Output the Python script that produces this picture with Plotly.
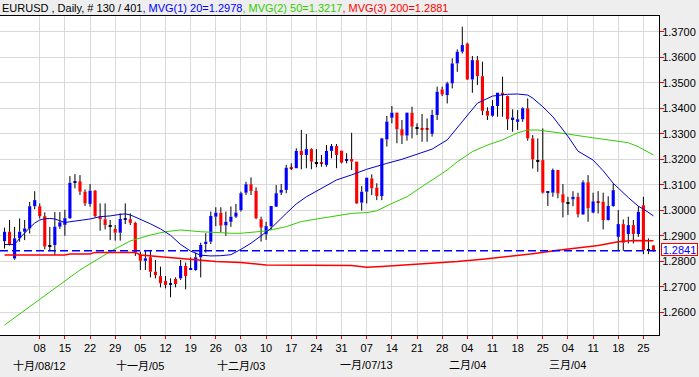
import plotly.graph_objects as go

# ---------------- data ----------------
symbol = "EURUSD"
period = "Daily"
first_bar = 130
total_bars = 401
last_price = 1.2841

ma_periods = [20, 50, 200]
ma_last = [1.2978, 1.3217, 1.2881]

day_labels = ["08", "15", "22", "29", "05", "12", "19", "26", "03", "10", "17", "24", "31",
              "07", "14", "21", "28", "04", "11", "18", "25", "04", "11", "18", "25"]
tick_idx = [7, 12, 17, 22, 27, 32, 37, 42, 47, 52, 57, 62, 67,
            72, 77, 82, 87, 92, 97, 102, 107, 112, 117, 122, 127]

month_labels = ["十月/08/12", "十一月/05", "十二月/03", "一月/07/13", "二月/04", "三月/04"]
month_idx = [7, 27, 47, 72, 92, 112]

opens = [
    1.2879, 1.2916, 1.2811, 1.2890, 1.2916, 1.2929, 1.3016, 1.3016, 1.2977, 1.2860,
    1.2864, 1.2936, 1.2943, 1.2969, 1.3110, 1.3114, 1.3073, 1.3025, 1.3077, 1.2977,
    1.2965, 1.2938, 1.2927, 1.2912, 1.2965, 1.2965, 1.2951, 1.2827, 1.2802, 1.2816,
    1.2759, 1.2742, 1.2723, 1.2710, 1.2731, 1.2733, 1.2782, 1.2766, 1.2766, 1.2816,
    1.2868, 1.2877, 1.2975, 1.2990, 1.2941, 1.2955, 1.2975, 1.3001, 1.3069, 1.3102,
    1.3076, 1.2965, 1.2906, 1.2938, 1.3014, 1.3069, 1.3080, 1.3169, 1.3165, 1.3233,
    1.3217, 1.3240, 1.3187, 1.3189, 1.3178, 1.3233, 1.3252, 1.3234, 1.3198, 1.3201,
    1.3191, 1.3030, 1.3073, 1.3125, 1.3089, 1.3056, 1.3278, 1.3363, 1.3383, 1.3318,
    1.3293, 1.3383, 1.3322, 1.3322, 1.3319, 1.3300, 1.3374, 1.3474, 1.3452, 1.3498,
    1.3576, 1.3622, 1.3654, 1.3513, 1.3589, 1.3526, 1.3390, 1.3371, 1.3409, 1.3461,
    1.3448, 1.3357, 1.3347, 1.3357, 1.3400, 1.3282, 1.3194, 1.3197, 1.3069, 1.3069,
    1.3158, 1.3063, 1.3030, 1.3043, 1.3053, 1.2984, 1.3110, 1.2991, 1.3035, 1.3034,
    1.2962, 1.3017, 1.2896, 1.2946, 1.2907, 1.2942, 1.2907, 1.3020, 1.2844, 1.2862,
]
highs = [
    1.2932, 1.2962, 1.2935, 1.2968, 1.2962, 1.3033, 1.3075, 1.3027, 1.2992, 1.2935,
    1.2993, 1.2993, 1.3002, 1.3134, 1.3142, 1.3138, 1.3082, 1.3103, 1.3080, 1.3027,
    1.3027, 1.2962, 1.2942, 1.2988, 1.3027, 1.2988, 1.2955, 1.2838, 1.2844, 1.2844,
    1.2805, 1.2779, 1.2742, 1.2733, 1.2737, 1.2805, 1.2795, 1.2816, 1.2834, 1.2873,
    1.2910, 1.2995, 1.3012, 1.3012, 1.2995, 1.3015, 1.3025, 1.3073, 1.3112, 1.3129,
    1.3090, 1.2975, 1.2955, 1.3017, 1.3099, 1.3103, 1.3178, 1.3184, 1.3243, 1.3315,
    1.3299, 1.3243, 1.3240, 1.3217, 1.3256, 1.3260, 1.3260, 1.3234, 1.3224, 1.3304,
    1.3191, 1.3095, 1.3128, 1.3141, 1.3106, 1.3284, 1.3370, 1.3409, 1.3383, 1.3354,
    1.3383, 1.3406, 1.3341, 1.3378, 1.3360, 1.3394, 1.3485, 1.3485, 1.3504, 1.3596,
    1.3631, 1.3720, 1.3657, 1.3605, 1.3605, 1.3583, 1.3404, 1.3432, 1.3461, 1.3524,
    1.3450, 1.3396, 1.3393, 1.3404, 1.3439, 1.3295, 1.3282, 1.3321, 1.3072, 1.3164,
    1.3158, 1.3103, 1.3053, 1.3075, 1.3069, 1.3118, 1.3138, 1.3069, 1.3075, 1.3069,
    1.3055, 1.3105, 1.3001, 1.2964, 1.2975, 1.2962, 1.3016, 1.3053, 1.2890, 1.2864,
]
lows = [
    1.2850, 1.2862, 1.2806, 1.2877, 1.2883, 1.2909, 1.3004, 1.2968, 1.2847, 1.2840,
    1.2825, 1.2927, 1.2900, 1.2966, 1.3086, 1.3060, 1.3017, 1.3014, 1.2972, 1.2920,
    1.2925, 1.2883, 1.2881, 1.2881, 1.2946, 1.2942, 1.2821, 1.2766, 1.2766, 1.2737,
    1.2733, 1.2698, 1.2694, 1.2659, 1.2698, 1.2727, 1.2690, 1.2766, 1.2763, 1.2737,
    1.2834, 1.2868, 1.2938, 1.2915, 1.2900, 1.2935, 1.2970, 1.2995, 1.3060, 1.3060,
    1.2965, 1.2877, 1.2884, 1.2923, 1.3014, 1.3060, 1.3067, 1.3158, 1.3165, 1.3161,
    1.3165, 1.3161, 1.3169, 1.3171, 1.3171, 1.3204, 1.3165, 1.3184, 1.3184, 1.3158,
    1.3025, 1.2999, 1.3027, 1.3060, 1.3040, 1.3040, 1.3250, 1.3341, 1.3263, 1.3260,
    1.3273, 1.3282, 1.3295, 1.3269, 1.3269, 1.3289, 1.3354, 1.3448, 1.3419, 1.3478,
    1.3543, 1.3615, 1.3511, 1.3461, 1.3491, 1.3373, 1.3354, 1.3367, 1.3367, 1.3367,
    1.3315, 1.3308, 1.3315, 1.3347, 1.3273, 1.3164, 1.3151, 1.3066, 1.3017, 1.3053,
    1.3047, 1.2972, 1.2982, 1.3016, 1.2972, 1.2982, 1.2955, 1.2988, 1.2988, 1.2925,
    1.2960, 1.3014, 1.2841, 1.2841, 1.2870, 1.2870, 1.2896, 1.2828, 1.2828, 1.2838,
]
closes = [
    1.2916, 1.2866, 1.2890, 1.2916, 1.2929, 1.3016, 1.3040, 1.2977, 1.2858, 1.2860,
    1.2936, 1.2953, 1.2969, 1.3108, 1.3112, 1.3073, 1.3027, 1.3077, 1.2977, 1.2965,
    1.2942, 1.2938, 1.2912, 1.2966, 1.2967, 1.2951, 1.2834, 1.2802, 1.2812, 1.2759,
    1.2746, 1.2714, 1.2707, 1.2711, 1.2711, 1.2782, 1.2742, 1.2772, 1.2816, 1.2864,
    1.2877, 1.2978, 1.2991, 1.2940, 1.2955, 1.2975, 1.2991, 1.3067, 1.3102, 1.3076,
    1.2969, 1.2932, 1.2938, 1.3017, 1.3067, 1.3080, 1.3167, 1.3166, 1.3233, 1.3217,
    1.3240, 1.3191, 1.3187, 1.3186, 1.3233, 1.3252, 1.3217, 1.3187, 1.3200, 1.3191,
    1.3027, 1.3073, 1.3128, 1.3086, 1.3056, 1.3282, 1.3348, 1.3383, 1.3318, 1.3293,
    1.3383, 1.3328, 1.3322, 1.3316, 1.3316, 1.3374, 1.3465, 1.3454, 1.3498, 1.3576,
    1.3622, 1.3648, 1.3513, 1.3589, 1.3526, 1.3390, 1.3371, 1.3409, 1.3461, 1.3456,
    1.3357, 1.3364, 1.3357, 1.3400, 1.3282, 1.3200, 1.3194, 1.3069, 1.3071, 1.3158,
    1.3066, 1.3030, 1.3030, 1.3053, 1.2984, 1.3110, 1.3008, 1.3035, 1.3033, 1.2962,
    1.3017, 1.3079, 1.2946, 1.2873, 1.2942, 1.2907, 1.2994, 1.2844, 1.2844, 1.2841,
]

# moving averages at the listed bar positions
ma20_idx = [0, 2, 3, 4, 5, 6, 7, 8, 9, 10, 11, 12, 13, 15, 17, 19, 21, 23, 24, 25,
            27, 29, 31, 33, 35, 37, 39, 41, 43, 45, 47, 49, 51, 53, 56, 58, 60, 63, 66, 69,
            72, 76, 79, 82, 85, 88, 89, 91, 94, 97, 100, 102, 104, 105, 107, 109, 112, 114, 117, 119,
            121, 124, 126, 127, 129]
ma20_val = [1.2866, 1.2866, 1.2890, 1.2912, 1.2932, 1.2950, 1.2962, 1.2967, 1.2968, 1.2966,
            1.2960, 1.2952, 1.2955, 1.2960, 1.2966, 1.2975, 1.2978, 1.2984, 1.2986, 1.2982,
            1.2966, 1.2947, 1.2927, 1.2902, 1.2866, 1.2840, 1.2824, 1.2821, 1.2822, 1.2826,
            1.2847, 1.2871, 1.2900, 1.2930, 1.2988, 1.3025, 1.3053, 1.3085, 1.3119, 1.3139,
            1.3161, 1.3184, 1.3200, 1.3220, 1.3240, 1.3276, 1.3300, 1.3345, 1.3420, 1.3448,
            1.3455, 1.3456, 1.3452, 1.3440, 1.3406, 1.3367, 1.3290, 1.3232, 1.3197, 1.3155,
            1.3106, 1.3050, 1.3016, 1.3005, 1.2978]

ma50_idx = [0, 7, 15, 21, 25, 29, 32, 35, 39, 45, 47, 52, 56, 59, 64, 69, 72, 74, 77, 80,
            82, 85, 88, 90, 93, 96, 99, 102, 104, 106, 109, 112, 115, 118, 122, 124, 126, 129]
ma50_val = [1.2550, 1.2650, 1.2766, 1.2838, 1.2880, 1.2903, 1.2916, 1.2923, 1.2916, 1.2910,
            1.2910, 1.2919, 1.2936, 1.2956, 1.2973, 1.2988, 1.2991, 1.2998, 1.3027, 1.3053,
            1.3080, 1.3119, 1.3158, 1.3190, 1.3230, 1.3256, 1.3276, 1.3304, 1.3315, 1.3315,
            1.3308, 1.3299, 1.3290, 1.3282, 1.3273, 1.3265, 1.3249, 1.3217]

ma200_idx = [0, 12, 13, 17, 18, 26, 27, 31, 35, 39, 42, 47, 52, 69, 72, 75, 80, 86, 90, 95,
             100, 105, 110, 118, 122, 125, 129]
ma200_val = [1.2825, 1.2825, 1.2829, 1.2829, 1.2835, 1.2835, 1.2825, 1.2818, 1.2812, 1.2805,
             1.2799, 1.2795, 1.2786, 1.2784, 1.2777, 1.2780, 1.2786, 1.2795, 1.2799, 1.2808,
             1.2818, 1.2830, 1.2843, 1.2862, 1.2877, 1.2882, 1.2881]

# ---------------- styles ----------------
UP = "#0000ff"
DOWN = "#ff0000"
FLAT = "#000000"
MA_COLORS = ["#0000c8", "#33cc00", "#ff0000"]
TXT_COLORS = ["#0000ff", "#33cc00", "#ff0000"]
FONT = "Liberation Sans, Arial, Noto Sans CJK SC, sans-serif"

n = len(opens)
xs = list(range(n))

fig = go.Figure()

# candle bodies
min_h = 0.0004
bases, heights, cols = [], [], []
for o, c in zip(opens, closes):
    lo, hi = min(o, c), max(o, c)
    pad = max(0.0, min_h - (hi - lo))
    bases.append(lo - pad / 2)
    heights.append((hi - lo) + pad)
    cols.append(UP if c > o else (DOWN if c < o else FLAT))
fig.add_trace(go.Bar(x=xs, y=heights, base=bases, width=0.62,
                     marker=dict(color=cols, line=dict(width=0)),
                     hoverinfo="skip", showlegend=False))

# wicks (above and below body)
wx, wy = [], []
for i, (o, h, l, c) in enumerate(zip(opens, highs, lows, closes)):
    top, bot = max(o, c), min(o, c)
    wx += [i, i, None, i, i, None]
    wy += [h, top, None, bot, l, None]
fig.add_trace(go.Scatter(x=wx, y=wy, mode="lines", line=dict(color="black", width=1),
                         hoverinfo="skip", showlegend=False, connectgaps=False))

# moving averages
fig.add_trace(go.Scatter(x=ma50_idx, y=ma50_val, mode="lines",
                         line=dict(color=MA_COLORS[1], width=1), showlegend=False))
fig.add_trace(go.Scatter(x=ma200_idx, y=ma200_val, mode="lines",
                         line=dict(color=MA_COLORS[2], width=1.5), showlegend=False))
fig.add_trace(go.Scatter(x=ma20_idx, y=ma20_val, mode="lines",
                         line=dict(color=MA_COLORS[0], width=1), showlegend=False))

# last price dashed line
fig.add_shape(type="line", xref="paper", x0=0, x1=1, yref="y", y0=last_price, y1=last_price,
              line=dict(color="#0000ff", width=1.5, dash="8px,4px"))

# title
title = (f"<span style='color:#000000'>{symbol} , {period}, # {first_bar} / {total_bars}</span>"
         + "".join(f"<span style='color:{TXT_COLORS[k]}'>, MVG({k+1}) {ma_periods[k]}={ma_last[k]:.4f}</span>"
                   for k in range(3)))
fig.add_annotation(text=title, xref="paper", yref="paper", x=0, y=1 + 8 / 319,
                   xanchor="left", yanchor="middle", showarrow=False,
                   font=dict(family=FONT, size=11, color="black"))

# month labels
for lab, xi in zip(month_labels, month_idx):
    fig.add_annotation(text=lab, xref="x", yref="paper", x=xi, y=-30 / 319,
                       xanchor="center", yanchor="middle", showarrow=False,
                       font=dict(family=FONT, size=11, color="black"))

# last price label
fig.add_annotation(text=f"{last_price:.4f}", xref="paper", x=1, xanchor="left", xshift=2,
                   yref="y", y=last_price, yanchor="middle", yshift=1, showarrow=False,
                   font=dict(family=FONT, size=11, color="#0000ff"),
                   width=35, height=11, align="center", valign="middle",
                   bgcolor="white", bordercolor="red", borderwidth=1, borderpad=0)

fig.update_layout(
    width=699, height=377,
    margin=dict(l=0, r=40, t=16, b=42),
    paper_bgcolor="#eeeeee", plot_bgcolor="white",
    barmode="overlay", showlegend=False,
    font=dict(family=FONT, size=11, color="black"),
)
fig.update_xaxes(range=[-0.9, 130.1], tickmode="array", tickvals=tick_idx, ticktext=day_labels,
                 showgrid=True, gridcolor="#d9d9d9", gridwidth=1,
                 ticks="outside", ticklen=3, tickcolor="red",
                 showline=True, linecolor="black", linewidth=1, mirror=True,
                 zeroline=False, tickfont=dict(size=11, color="black"))
fig.update_yaxes(range=[1.2511, 1.3762], side="right", tick0=1.26, dtick=0.01, tickformat=".4f",
                 showgrid=True, gridcolor="#d9d9d9", gridwidth=1,
                 ticks="outside", ticklen=4, tickcolor="red", ticklabelstandoff=-4,
                 showline=True, linecolor="black", linewidth=1,
                 zeroline=False, tickfont=dict(size=11, color="black"))

fig.write_html("out.html",
               config={"displayModeBar": False},
               post_script="document.body.style.margin='0px';document.body.style.padding='0px';")
